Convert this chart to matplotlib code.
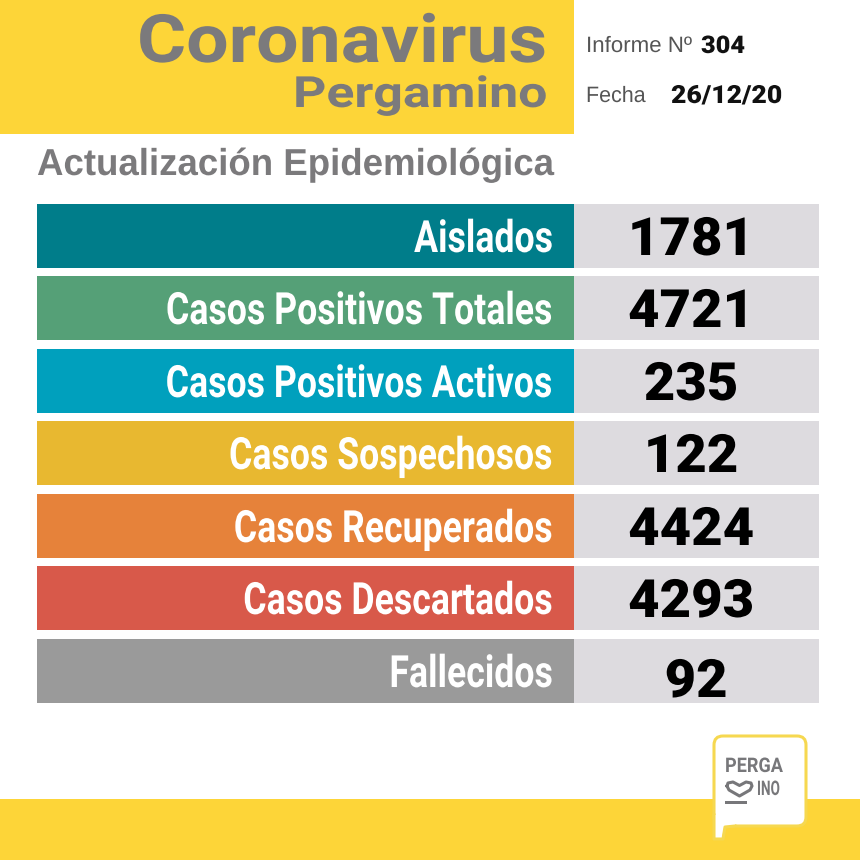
import matplotlib
matplotlib.use('Agg')
import matplotlib.pyplot as plt
from matplotlib.patches import FancyBboxPatch, Polygon, Rectangle
from matplotlib.patheffects import AbstractPathEffect
from matplotlib.transforms import Affine2D

categories = ['Aislados', 'Casos Positivos Totales', 'Casos Positivos Activos',
              'Casos Sospechosos', 'Casos Recuperados', 'Casos Descartados', 'Fallecidos']
values = [1781, 4721, 235, 122, 4424, 4293, 92]
bar_colors = ['#007d8a', '#55a077', '#00a0bd', '#e8b830', '#e6823a', '#d8594a', '#9a9a9a']

YELLOW = '#fdd538'
GREY = '#7b7a7c'
PANEL = '#dddbdf'
LOGO_EDGE = '#f6d850'


class StretchX(AbstractPathEffect):
    # no hay fuentes condensadas: se estira el texto en x desde un punto fijo
    def __init__(self, sx, x0):
        super().__init__()
        self.sx, self.x0 = sx, x0

    def draw_path(self, renderer, gc, tpath, affine, rgbFace=None):
        t = Affine2D().translate(-self.x0, 0).scale(self.sx, 1).translate(self.x0, 0)
        renderer.draw_path(gc, tpath, affine + t, rgbFace)


def fit_width(txt, target, x0):
    w = txt.get_window_extent(fig.canvas.get_renderer()).width
    txt.set_path_effects([StretchX(target / w, x0)])


fig = plt.figure(figsize=(8.6, 8.6), dpi=100)
ax = fig.add_axes([0, 0, 1, 1])
ax.set_xlim(0, 860)
ax.set_ylim(860, 0)
ax.axis('off')

# franjas amarillas
ax.add_patch(Rectangle((0, 0), 574, 134, color=YELLOW, lw=0))
ax.add_patch(Rectangle((0, 799), 860, 61, color=YELLOW, lw=0))

# titulo
t = ax.text(547, 62, 'Coronavirus', ha='right', va='baseline', color=GREY,
            family='Roboto', weight='bold', fontsize=48)
fit_width(t, 410, 547)
t = ax.text(547, 107, 'Pergamino', ha='right', va='baseline', color=GREY,
            family='Roboto', weight='bold', fontsize=31)
fit_width(t, 254, 547)
t = ax.text(37, 175, 'Actualización Epidemiológica', ha='left', va='baseline', color=GREY,
            family='Liberation Sans', weight='bold', fontsize=27)
fit_width(t, 517, 37)

# informe y fecha
t = ax.text(586, 52, 'Informe Nº', ha='left', va='baseline', color='#555555',
            family='Liberation Sans', fontsize=16)
fit_width(t, 106, 586)
t = ax.text(701, 53, '304', ha='left', va='baseline', color='#111111',
            family='Roboto', weight='black', fontsize=17.5)
fit_width(t, 44, 701)
t = ax.text(586, 102, 'Fecha', ha='left', va='baseline', color='#555555',
            family='Liberation Sans', fontsize=16)
fit_width(t, 60, 586)
t = ax.text(671, 103, '26/12/20', ha='left', va='baseline', color='#111111',
            family='Roboto', weight='black', fontsize=18)
fit_width(t, 111, 671)

# filas
row_y = [236, 308, 381, 453, 526, 598, 671]
ax.barh(row_y, [537] * len(categories), left=37, height=64, color=bar_colors, lw=0)
ax.barh(row_y, [245] * len(categories), left=574, height=64, color=PANEL, lw=0)

ref = ax.text(553, 0, categories[1], ha='right', family='Roboto', weight='bold', fontsize=32)
label_sx = 387 / ref.get_window_extent(fig.canvas.get_renderer()).width
ref.remove()

for y, name, val in zip(row_y, categories, values):
    ax.text(553, y + 16, name, ha='right', va='baseline', color='white',
            family='Roboto', weight='bold', fontsize=32,
            path_effects=[StretchX(label_sx, 553)])
    # el 92 va un poco corrido en el original
    vx, vy = (696, y + 26) if val < 100 else (691, y + 19)
    ax.text(vx, vy, str(val), ha='center', va='baseline', color='black',
            family='Roboto', weight='black', fontsize=38,
            path_effects=[StretchX(1.03, vx)])

# logo
ax.add_patch(FancyBboxPatch((714, 736), 92, 90, boxstyle='round,pad=0,rounding_size=9',
                            facecolor='white', edgecolor=LOGO_EDGE, lw=2.2))
ax.add_patch(Polygon([(715, 815), (715, 838), (722, 838), (724, 828), (735, 825), (735, 815)],
                     closed=True, facecolor='white', edgecolor='none'))
ax.plot([714, 714, 723, 725, 735], [815, 839, 839, 827, 826], color=LOGO_EDGE, lw=2.2)
t = ax.text(725, 772, 'PERGA', ha='left', va='baseline', color='#77777a',
            family='Roboto', weight='bold', fontsize=14.5)
fit_width(t, 58, 725)
t = ax.text(757, 795, 'INO', ha='left', va='baseline', color='#77777a',
            family='Roboto', weight='bold', fontsize=14.5)
fit_width(t, 23, 757)
# corazon del logo, hace de M
ax.plot([727, 728, 733, 739.5, 746, 751, 752, 750, 739.5, 729, 727],
        [786, 783, 782, 785.5, 782, 783, 786, 790, 796, 790, 786],
        color='#77777a', lw=2.2, solid_joinstyle='round')
ax.add_patch(Rectangle((725, 801), 22, 3, color='#77777a', lw=0))

fig.savefig('out.png', dpi=100)
